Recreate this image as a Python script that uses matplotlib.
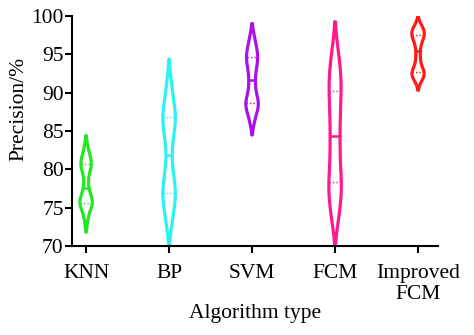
import numpy as np
import pandas as pd
import matplotlib
matplotlib.use("Agg")
import matplotlib.pyplot as plt
import seaborn as sns

categories = ["KNN", "BP", "SVM", "FCM", "Improved\nFCM"]
colors = ["#22e822", "#2ef2f2", "#a812e8", "#ff1a8c", "#ff1a1a"]

knn = [73.0, 73.8, 74.4, 74.8, 75.1, 75.3, 75.5, 75.6, 75.7, 75.9,
       76.1, 76.3, 76.5, 76.8, 77.3, 77.9, 78.5, 79.2, 79.7, 80.0,
       80.3, 80.5, 80.7, 80.9, 81.1, 81.3, 81.6, 82.0, 82.5, 83.2]
bp = [72.3, 73.3, 74.2, 74.9, 75.5, 76.0, 76.4, 76.8, 77.2, 77.6,
      78.1, 78.7, 79.4, 80.3, 81.1, 82.7, 83.6, 84.4, 85.1, 85.6,
      86.0, 86.4, 86.9, 87.3, 87.7, 88.2, 88.8, 89.6, 90.6, 92.0]
svm = [85.9, 86.6, 87.2, 87.6, 87.9, 88.2, 88.4, 88.55, 88.75, 89.0,
       89.3, 89.7, 90.2, 90.8, 91.3, 91.9, 92.5, 93.0, 93.4, 93.8,
       94.1, 94.4, 94.7, 94.9, 95.2, 95.5, 95.9, 96.4, 96.9, 97.6]
fcm = [72.9, 74.0, 74.9, 75.6, 76.5, 77.2, 77.7, 78.1, 78.9, 79.6,
       80.4, 81.3, 82.2, 83.0, 83.8, 84.8, 85.7, 86.6, 87.4, 88.1,
       88.8, 89.9, 90.4, 91.0, 91.6, 92.3, 93.2, 93.9, 94.9, 96.4]
improved = [91.35, 91.8, 92.0, 92.15, 92.3, 92.4, 92.5, 92.6, 92.75, 92.95,
            93.2, 93.6, 94.1, 94.6, 95.1, 95.7, 96.2, 96.6, 96.9, 97.1,
            97.3, 97.45, 97.6, 97.75, 97.9, 98.05, 98.2, 98.35, 98.55, 98.85]

yticks = [70, 75, 80, 85, 90, 95, 100]

series = [knn, bp, svm, fcm, improved]
df = pd.DataFrame({
    "Algorithm": np.repeat(categories, [len(s) for s in series]),
    "Precision": np.concatenate(series),
})

plt.rcParams['font.family'] = ['Liberation Serif', 'DejaVu Serif']

fig = plt.figure(figsize=(4.74, 3.35), dpi=100)
ax = fig.add_axes([72/474, 89/335, (438-72)/474, (246-16)/335])

sns.violinplot(data=df, x="Algorithm", y="Precision", hue="Algorithm",
               order=categories, hue_order=categories, palette=colors,
               fill=False, inner="quart", cut=1.5, density_norm="width",
               width=0.15, bw_method=0.275, linewidth=2.3, legend=False, ax=ax,
               inner_kws=dict(linewidth=1.0))

medians = [float(np.median(s)) for s in series]
for ln in ax.lines:
    y = np.asarray(ln.get_ydata(), dtype=float)
    if len(y) == 2 and abs(y[0] - y[1]) < 1e-9:
        if any(abs(y[0] - m) < 1e-6 for m in medians):
            ln.set_linestyle('-')
            ln.set_linewidth(1.8)
        else:
            ln.set_linestyle((0, (1, 1.5)))
            ln.set_linewidth(1.0)

ax.set_ylim(70, 100)
ax.set_xlim(-0.17, 4.24)
ax.set_yticks(yticks)
ax.set_yticklabels([str(t) for t in yticks])
ax.set_xticks(range(len(categories)))
ax.set_xticklabels(categories, fontsize=15.5, linespacing=1.15)
ax.tick_params(axis='y', labelsize=15.5, direction='out', length=5, width=1.5, pad=1)
ax.tick_params(axis='x', direction='out', length=5, width=1.5, pad=8)
ax.spines['top'].set_visible(False)
ax.spines['right'].set_visible(False)
ax.spines['left'].set_linewidth(1.5)
ax.spines['bottom'].set_linewidth(1.5)
ax.set_xlabel("Algorithm type", fontsize=15.5, labelpad=0)
ax.set_ylabel("Precision/%", fontsize=15.5)
ax.yaxis.set_label_coords(-0.12, 0.596)

fig.savefig("out.png", dpi=100)
